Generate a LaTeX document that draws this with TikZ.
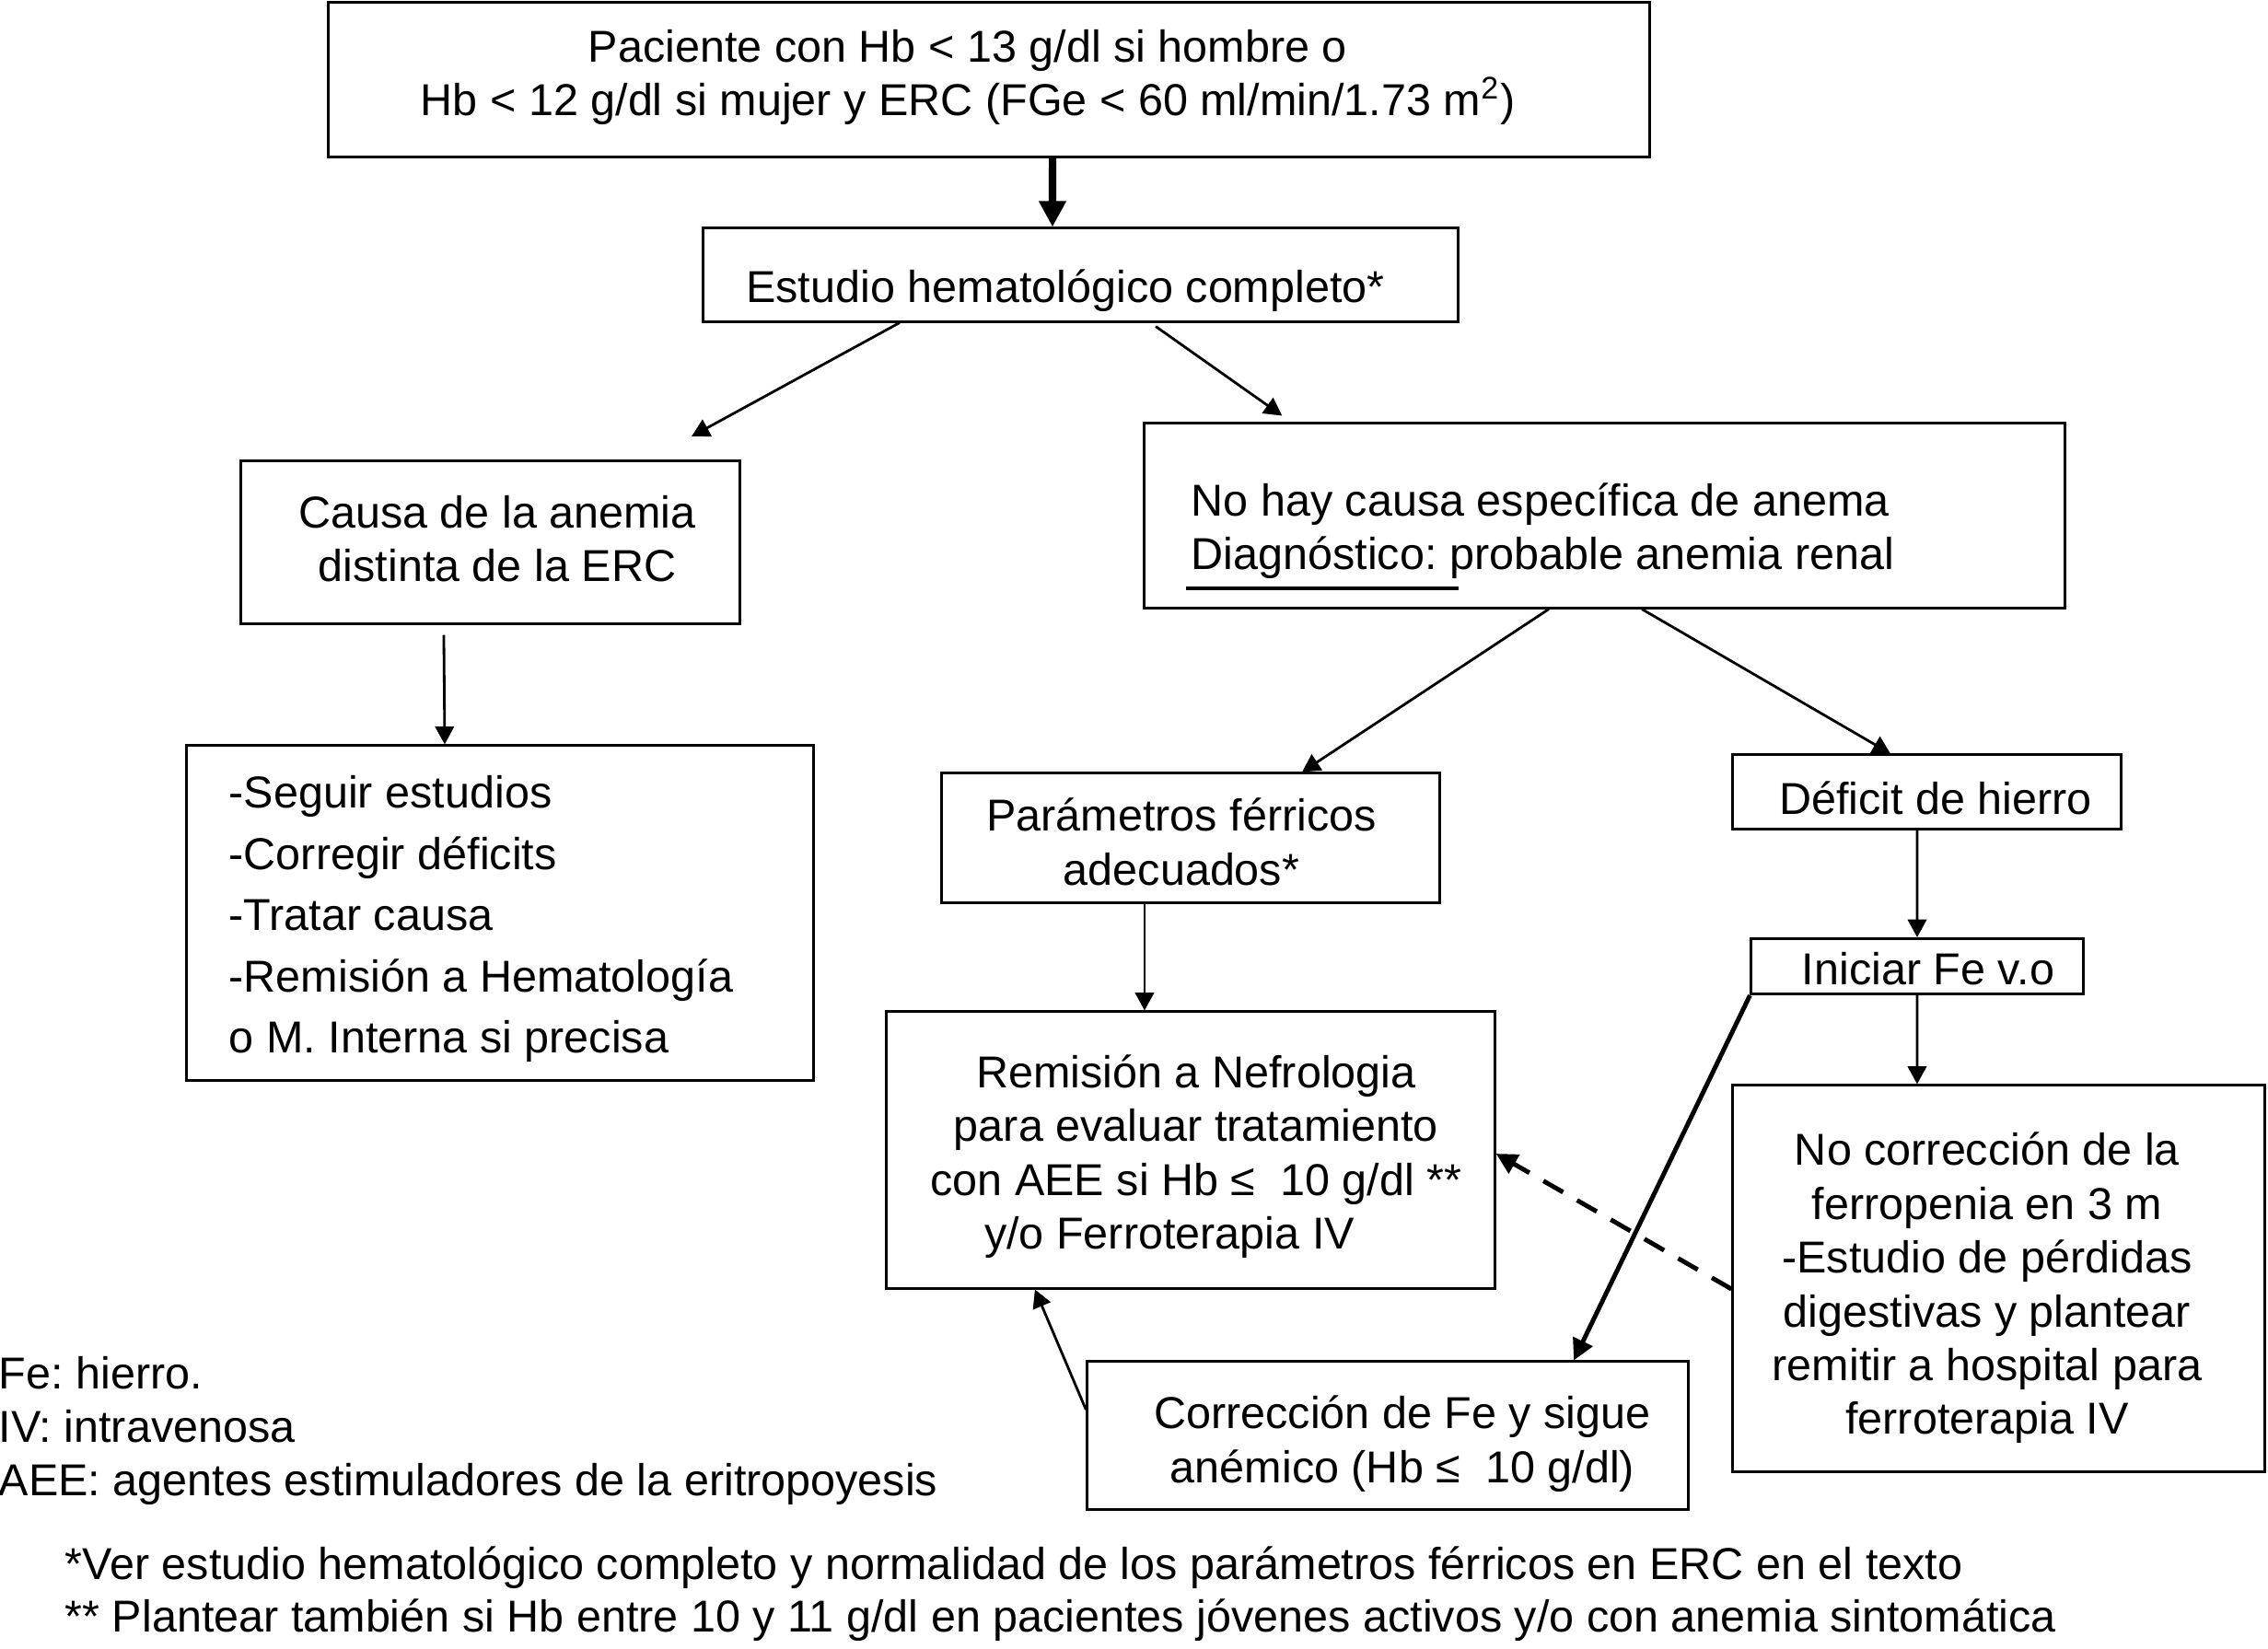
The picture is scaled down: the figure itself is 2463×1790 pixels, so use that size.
\documentclass[tikz,border=0pt]{standalone}
\usepackage{fontspec}
\setmainfont{Liberation Sans}
\usetikzlibrary{arrows.meta}
\newcommand\ps{\vphantom{(}}
\newcommand\dul{\rlap{\hspace{-1.5pt}\rule[-6.3pt]{84pt}{1.1pt}}}
\frenchspacing
\begin{document}
\frenchspacing
\begin{tikzpicture}[x=0.01cm,y=-0.01cm,
  font=\fontsize{13.8}{16.6}\selectfont,
  box/.style={draw, line width=0.85pt, inner sep=0pt, anchor=center},
  txt/.style={inner sep=0pt, align=center},
  ltxt/.style={inner sep=0pt, align=left, anchor=west},
  arr/.style={-{Triangle[length=5.5pt,width=5.8pt]}, line width=0.8pt},
  thickarr/.style={-{Triangle[length=6.5pt,width=6.5pt]}, line width=1.4pt},
  bigarr/.style={-{Triangle[length=8pt,width=8pt]}, line width=2.3pt},
  dasharr/.style={-{Triangle[length=6.5pt,width=6.5pt]}, line width=1.4pt, dash pattern=on 7pt off 5pt}]
\useasboundingbox (0,0) rectangle (2463,1790);

% boxes
\node[box, minimum width=14.34cm, minimum height=1.67cm] (b1) at (1074,86.5) {};
\node[box, minimum width=8.19cm, minimum height=1.01cm] (b2) at (1173.5,298.5) {};
\node[box, minimum width=5.41cm, minimum height=1.76cm] (b3) at (532.5,589) {};
\node[box, minimum width=9.99cm, minimum height=2.00cm] (b4) at (1742.5,560) {};
\node[box, minimum width=6.80cm, minimum height=3.63cm] (b5) at (543,991.5) {};
\node[box, minimum width=5.40cm, minimum height=1.40cm] (b6) at (1293,910) {};
\node[box, minimum width=4.21cm, minimum height=0.80cm] (b7) at (2092.5,860) {};
\node[box, minimum width=3.60cm, minimum height=0.60cm] (b8) at (2082,1049.5) {};
\node[box, minimum width=6.60cm, minimum height=3.00cm] (b9) at (1293,1249) {};
\node[box, minimum width=5.77cm, minimum height=4.19cm] (b10) at (2170.5,1388.5) {};
\node[box, minimum width=6.52cm, minimum height=1.60cm] (b11) at (1507,1559) {};

% texts
\node[txt] (t1) at (1051,84) {\ps Paciente con Hb < 13 g/dl si hombre o\\ \ps Hb < 12 g/dl si mujer y ERC (FGe < 60 ml/min/1.73 m\textsuperscript{2})};
\node[txt] (t2) at (1157,316) {\ps Estudio hematológico completo*};
\node[txt] (t3) at (540,590) {\ps Causa de la anemia\\ \ps distinta de la ERC};
\node[ltxt] (t4) at (1293,583) {\ps No hay causa específica de anema\\ \ps\dul Diagnóstico: probable anemia renal};
\node[ltxt, font=\fontsize{13.8}{18.9}\selectfont] (t5) at (248,998) {\ps -Seguir estudios\\ -Corregir déficits\\ -Tratar causa\\ -Remisión a Hematología\\ \ps o M. Interna si precisa};
\node[txt] (t6) at (1283,919) {\ps Parámetros férricos\\ \ps adecuados*};
\node[txt] (t7) at (2102,872) {\ps Déficit de hierro};
\node[txt] (t8) at (2094,1057) {\ps Iniciar Fe v.o};
\node[txt] (t9) at (1299,1256) {\ps Remisión a Nefrologia\\ para evaluar tratamiento\\ con AEE si Hb ≤~~10 g/dl **\\ \ps y/o Ferroterapia IV\hspace*{16.5pt}};
\node[txt] (t10) at (2158,1399) {\ps No corrección de la\\ ferropenia en 3 m\\ -Estudio de pérdidas\\ digestivas y plantear\\ remitir a hospital para\\ \ps ferroterapia IV};
\node[txt] (t11) at (1523,1568) {\ps Corrección de Fe y sigue\\ \ps anémico (Hb ≤~~10 g/dl)};
\node[ltxt] (fn1) at (-2,1554) {\ps Fe: hierro.\\ IV: intravenosa\\ \ps AEE: agentes estimuladores de la eritropoyesis};
\node[ltxt, font=\fontsize{13.8}{16.2}\selectfont] (fn2) at (70,1731.5) {\ps *Ver estudio hematológico completo y normalidad de los parámetros férricos en ERC en el texto\\ \ps ** Plantear también si Hb entre 10 y 11 g/dl en pacientes jóvenes activos y/o con anemia sintomática};

% free end
\coordinate (e1) at (751,474);

% connectors
\draw[bigarr] ([xshift=0.69cm]b1.south) -- ([xshift=-0.305cm]b2.north);
\draw[arr] ([xshift=-1.965cm]b2.south) -- (e1);
\draw[arr] ([xshift=0.815cm,yshift=-0.04cm]b2.south) -- ([xshift=-3.5cm,yshift=0.07cm]b4.north);
\draw[arr] ([xshift=-0.505cm,yshift=-0.11cm]b3.south) -- ([xshift=-0.6cm]b5.north);
\draw[arr] ([xshift=-0.605cm]b4.south) -- ([xshift=1.21cm]b6.north);
\draw[arr] ([xshift=0.405cm]b4.south) -- ([xshift=-0.395cm]b7.north);
\draw[arr] ([xshift=-0.5cm]b6.south) -- ([xshift=-0.5cm]b9.north);
\draw[arr] ([xshift=-0.105cm]b7.south) -- (b8.north);
\draw[arr] (b8.south) -- ([xshift=-0.885cm]b10.north);
\draw[thickarr] (b8.south west) -- ([xshift=2.02cm]b11.north);
\draw[dasharr] ([yshift=-0.115cm]b10.west) -- ([yshift=-0.04cm]b9.east);
\draw[arr] ([yshift=0.28cm]b11.west) -- ([xshift=-1.69cm]b9.south);
\end{tikzpicture}
\end{document}
